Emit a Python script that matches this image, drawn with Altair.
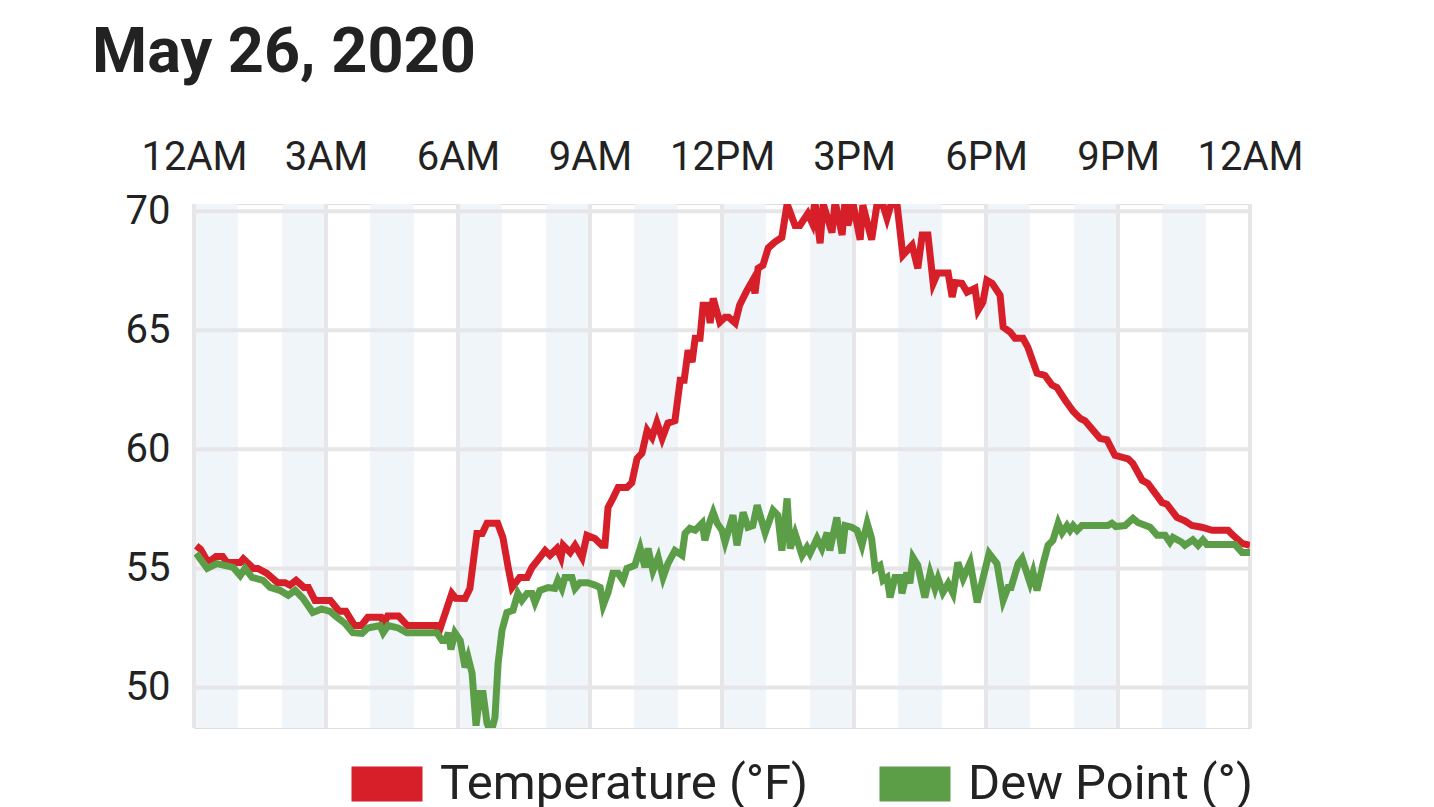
import altair as alt
import pandas as pd

# ---- data ----
temp_hours = [0.05, 0.15, 0.32, 0.5, 0.65, 0.75, 1.05, 1.12, 1.35, 1.45, 1.65, 1.9, 2.07, 2.18, 2.32, 2.5, 2.6,
              2.75, 3.1, 3.3, 3.45, 3.65, 3.8, 3.95, 4.25, 4.32, 4.4, 4.65, 4.85, 5.5, 5.57, 5.86, 5.95, 6.16,
              6.27, 6.43, 6.55, 6.66, 6.9, 7.02, 7.14, 7.23, 7.4, 7.57, 7.68, 7.86, 7.98, 8.09, 8.25, 8.34, 8.39,
              8.55, 8.66, 8.82, 8.93, 9.11, 9.27, 9.34, 9.41, 9.52, 9.64, 9.84, 9.95, 10.07, 10.18, 10.3, 10.41,
              10.52, 10.64, 10.77, 10.93, 11.05, 11.14, 11.23, 11.32, 11.39, 11.5, 11.57, 11.68, 11.73, 11.8,
              11.95, 12.07, 12.15, 12.3, 12.4, 12.57, 12.7, 12.75, 12.82, 12.93, 13.05, 13.2, 13.36, 13.48,
              13.66, 13.77, 13.95, 14.05, 14.11, 14.23, 14.3, 14.5, 14.57, 14.73, 14.8, 14.86, 14.98, 15.14,
              15.2, 15.4, 15.52, 15.66, 15.75, 15.86, 15.98, 16.11, 16.32, 16.45, 16.55, 16.68, 16.8, 16.9,
              17.14, 17.23, 17.3, 17.45, 17.57, 17.75, 17.82, 17.93, 18.02, 18.14, 18.32, 18.39, 18.55, 18.66,
              18.84, 18.95, 19.16, 19.34, 19.5, 19.61, 19.8, 19.98, 20.14, 20.25, 20.59, 20.75, 20.93, 21.23,
              21.34, 21.55, 21.68, 22.0, 22.11, 22.34, 22.52, 22.68, 22.9, 23.14, 23.5, 23.61, 23.82, 24.0]
temp_values = [55.95, 55.8, 55.25, 55.5, 55.5, 55.25, 55.25, 55.4, 55.0, 55.0, 54.8, 54.4, 54.4, 54.3, 54.5, 54.2, 54.2,
               53.65, 53.65, 53.2, 53.2, 52.6, 52.6, 52.95, 52.95, 52.7, 53.0, 53.0, 52.6, 52.6, 52.35, 53.95, 53.75, 53.74,
               54.16, 56.47, 56.47, 56.9, 56.9, 56.3, 55.04, 54.2, 54.62, 54.62, 55.04, 55.46, 55.75, 55.55, 55.84, 55.46, 55.97,
               55.67, 55.97, 55.46, 56.39, 56.26, 55.97, 55.97, 57.56, 57.94, 58.4, 58.4, 58.6, 59.62, 59.83, 60.8, 60.5,
               61.13, 60.46, 61.1, 61.2, 62.9, 62.9, 64.16, 63.66, 64.66, 64.66, 66.05, 66.05, 65.3, 66.34,
               65.34, 65.55, 65.55, 65.3, 66.05, 66.68, 67.1, 66.55, 67.6, 67.73, 68.45, 68.7, 68.9, 70.3,
               69.4, 69.4, 69.9, 69.5, 70.4, 68.65, 70.3, 69.1, 70.4, 69.0, 70.5, 69.4, 70.3, 68.8,
               70.25, 68.8, 70.25, 70.25, 69.7, 70.4, 70.25, 68.15, 68.57, 67.6, 69.0, 69.0, 66.97, 67.4,
               67.4, 66.4, 67.0, 66.97, 66.6, 66.76, 65.84, 66.18, 67.1, 66.97, 66.47, 65.13, 64.92, 64.66,
               64.66, 64.29, 63.2, 63.1, 62.7, 62.6, 62.06, 61.6, 61.3, 61.2, 60.46, 60.4, 59.75, 59.6,
               59.4, 58.7, 58.57, 57.77, 57.7, 57.14, 57.0, 56.8, 56.73, 56.6, 56.6, 56.4, 56.05, 55.97]

dew_hours = [0.05, 0.3, 0.52, 0.89, 1.05, 1.16, 1.32, 1.57, 1.73, 1.95, 2.14, 2.3, 2.48, 2.7, 2.9, 3.09, 3.25, 3.43,
             3.61, 3.82, 3.95, 4.23, 4.3, 4.41, 4.64, 4.84, 5.52, 5.64, 5.72, 5.78, 5.84, 5.93, 6.05, 6.16, 6.23,
             6.32, 6.41, 6.5, 6.57, 6.66, 6.75, 6.84, 6.91, 7.0, 7.11, 7.25, 7.36, 7.45, 7.57, 7.68, 7.75, 7.86,
             8.05, 8.2, 8.27, 8.36, 8.43, 8.59, 8.66, 8.77, 8.95, 9.11, 9.23, 9.3, 9.41, 9.52, 9.64, 9.75, 9.84,
             10.02, 10.14, 10.25, 10.32, 10.43, 10.55, 10.66, 10.77, 10.93, 11.09, 11.16, 11.27, 11.39, 11.55,
             11.61, 11.73, 11.8, 11.89, 12.0, 12.07, 12.25, 12.34, 12.48, 12.59, 12.7, 12.8, 12.98, 13.16, 13.27,
             13.36, 13.48, 13.55, 13.66, 13.82, 13.93, 14.0, 14.16, 14.27, 14.39, 14.45, 14.61, 14.73, 14.8,
             14.95, 15.07, 15.18, 15.3, 15.4, 15.48, 15.59, 15.66, 15.75, 15.82, 15.93, 16.05, 16.09, 16.2,
             16.27, 16.34, 16.45, 16.61, 16.73, 16.84, 16.91, 17.02, 17.14, 17.25, 17.36, 17.48, 17.64, 17.8,
             17.93, 18.07, 18.25, 18.39, 18.5, 18.57, 18.73, 18.82, 19.0, 19.07, 19.16, 19.3, 19.41, 19.52,
             19.64, 19.73, 19.84, 19.91, 19.98, 20.07, 20.18, 20.77, 20.86, 20.95, 21.16, 21.34, 21.45, 21.73,
             21.89, 22.07, 22.18, 22.25, 22.45, 22.52, 22.7, 22.82, 22.93, 23.02, 23.66, 23.82, 24.0]
dew_values = [55.63, 55.0, 55.2, 55.04, 54.7, 55.0, 54.62, 54.5, 54.2, 54.08, 53.87, 54.08, 53.74, 53.15, 53.3, 53.2, 52.95, 52.7,
              52.3, 52.27, 52.5, 52.6, 52.3, 52.6, 52.5, 52.3, 52.3, 51.97, 51.97, 52.3, 51.6, 52.3, 51.97, 50.84, 51.26,
              50.6, 48.4, 49.75, 49.75, 48.5, 48.1, 48.74, 51.0, 52.4, 53.15, 53.24, 53.95, 53.66, 53.95, 53.95, 53.57, 54.07,
              54.2, 54.16, 54.5, 54.16, 54.62, 54.62, 54.16, 54.4, 54.4, 54.3, 54.2, 53.45, 53.99, 54.8, 54.8, 54.5, 55.0,
              55.13, 55.84, 55.04, 55.84, 54.9, 55.46, 54.62, 55.2, 55.75, 55.55, 56.47, 56.68, 56.6, 56.9,
              56.18, 57.0, 57.35, 56.9, 56.6, 56.1, 57.23, 55.97, 57.35, 56.73, 56.8, 57.65, 56.5, 57.44, 57.23,
              55.75, 57.94, 55.84, 56.47, 55.55, 55.88, 55.63, 56.26, 55.84, 56.5, 55.75, 57.14, 55.63, 56.8,
              56.73, 56.6, 55.97, 56.9, 56.26, 55.0, 55.13, 54.5, 54.62, 53.78, 54.62, 54.62, 53.95, 54.83,
              54.37, 55.46, 55.13, 53.78, 54.8, 54.16, 54.58, 53.99, 54.37, 53.95, 55.25, 54.58, 55.25, 53.57,
              54.58, 55.63, 55.2, 53.66, 54.2, 54.2, 55.2, 55.42, 54.4, 54.83, 54.07, 55.2, 55.97, 56.18,
              56.9, 56.5, 56.8, 56.6, 56.8, 56.6, 56.8, 56.8, 56.9, 56.76, 56.8, 57.1, 56.93, 56.73,
              56.39, 56.39, 56.1, 56.3, 56.1, 55.97, 56.2, 55.97, 56.2, 56.0, 56.0, 55.67, 55.67]

series_names = ["Temperature (°F)", "Dew Point (°)"]
series_colors = ["#d61f28", "#5c9e48"]

x_tick_hours = [0, 3, 6, 9, 12, 15, 18, 21, 24]
y_tick_values = [50, 55, 60, 65, 70]
band_start_hours = [0, 2, 4, 6, 8, 10, 12, 14, 16, 18, 20, 22]
band_end_hours = [h + 1 for h in band_start_hours]

title_text = "May 26, 2020"

# ---- tables ----
lines_df = pd.concat([
    pd.DataFrame({"hour": temp_hours, "value": temp_values, "series": series_names[0], "order": 0}),
    pd.DataFrame({"hour": dew_hours, "value": dew_values, "series": series_names[1], "order": 1}),
], ignore_index=True)
bands_df = pd.DataFrame({"start": band_start_hours, "end": band_end_hours})
xgrid_df = pd.DataFrame({"hour": x_tick_hours})
ygrid_df = pd.DataFrame({"value": y_tick_values})

X_DOMAIN = [0, 24]
Y_DOMAIN = [48.3, 70.3]
GRID = "#e6e6e9"
FONT = "Roboto"

x_scale = alt.Scale(domain=X_DOMAIN, nice=False, zero=False)
y_scale = alt.Scale(domain=Y_DOMAIN, nice=False, zero=False)

label_expr = ("datum.value == 0 || datum.value == 24 ? '12AM' : datum.value == 12 ? '12PM' : "
              "datum.value < 12 ? datum.value + 'AM' : (datum.value - 12) + 'PM'")

bands = alt.Chart(bands_df).mark_rect(color="#f0f5fa").encode(
    x=alt.X("start:Q", scale=x_scale,
            axis=alt.Axis(orient="top", values=x_tick_hours, labelExpr=label_expr, grid=False,
                          ticks=False, domain=False, labelPadding=27, labelFontSize=40,
                          labelFont=FONT, labelColor="#222222", title=None, labelFlush=False)),
    x2="end:Q",
)

vrules = alt.Chart(xgrid_df).mark_rule(color=GRID, strokeWidth=4).encode(
    x=alt.X("hour:Q", scale=x_scale),
)

hrules = alt.Chart(ygrid_df).mark_rule(color=GRID, strokeWidth=4).encode(
    y=alt.Y("value:Q", scale=y_scale,
            axis=alt.Axis(values=y_tick_values, grid=False, ticks=False, domain=False,
                          labelPadding=24, labelFontSize=40, labelFont=FONT,
                          labelColor="#222222", title=None)),
)

lines = alt.Chart(lines_df).mark_line(clip=True, strokeJoin="miter").encode(
    x=alt.X("hour:Q", scale=x_scale),
    y=alt.Y("value:Q", scale=y_scale),
    color=alt.Color("series:N",
                    scale=alt.Scale(domain=series_names, range=series_colors),
                    legend=alt.Legend(orient="none", legendX=140, legendY=527, direction="horizontal",
                                      title=None, symbolType="M-1,0H1", symbolSize=5041,
                                      symbolStrokeWidth=35, labelFontSize=49, labelFont=FONT,
                                      labelColor="#222222", labelOffset=0, columnPadding=0,
                                      labelLimit=1000)),
    strokeWidth=alt.value(7),
    order=alt.Order("order:Q"),
    detail="series:N",
)

chart = alt.layer(bands, vrules, hrules, lines).properties(
    width=1056,
    height=524,
    autosize=alt.AutoSizeParams(type="none"),
    padding={"left": 186, "top": 196, "right": 120, "bottom": 85},
    title=alt.TitleParams(title_text, anchor="start", frame="group", dx=-102, offset=52,
                          font=FONT, fontSize=63, fontWeight="bold", color="#222222"),
).configure_view(stroke=GRID, strokeWidth=5).configure(background="white")

chart.save("out.html", embed_options={"renderer": "svg", "actions": False})
